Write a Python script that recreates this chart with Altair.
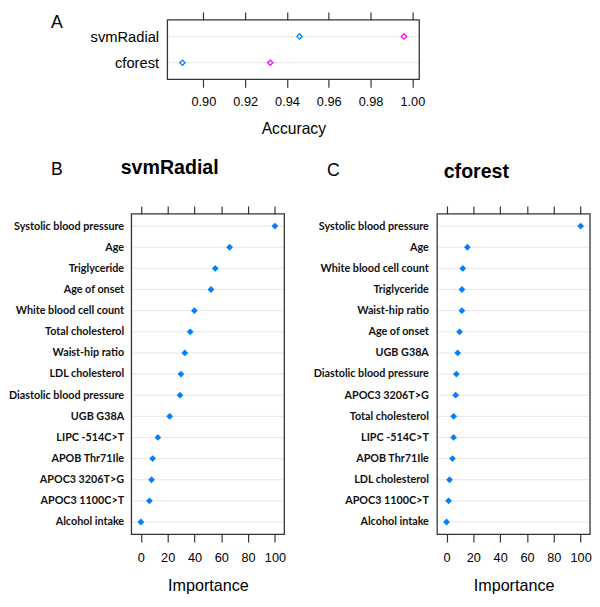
import altair as alt
import pandas as pd

# ---------------- data ----------------
models = ["svmRadial", "cforest"]
acc_set1 = [0.946, 0.890]     # blue open diamonds
acc_set2 = [0.996, 0.932]     # magenta open diamonds
acc_ticks = [0.90, 0.92, 0.94, 0.96, 0.98, 1.00]
acc_domain = [0.8828, 1.0033]

svm_features = ["Systolic blood pressure", "Age", "Triglyceride", "Age of onset",
                "White blood cell count", "Total cholesterol", "Waist-hip ratio",
                "LDL cholesterol", "Diastolic blood pressure", "UGB G38A",
                "LIPC -514C>T", "APOB  Thr71Ile", "APOC3 3206T>G", "APOC3 1100C>T",
                "Alcohol intake"]
svm_importance = [100, 66.2, 55.5, 52.3, 39.9, 36.8, 32.8, 29.9, 29.2, 21.5,
                  12.7, 8.8, 8.0, 6.4, 0]

cf_features = ["Systolic blood pressure", "Age", "White blood cell count", "Triglyceride",
               "Waist-hip ratio", "Age of onset", "UGB G38A", "Diastolic blood pressure",
               "APOC3 3206T>G", "Total cholesterol", "LIPC -514C>T", "APOB  Thr71Ile",
               "LDL cholesterol", "APOC3 1100C>T", "Alcohol intake"]
cf_importance = [100, 15.5, 12.1, 11.5, 11.4, 9.7, 8.3, 7.3, 6.8, 5.3, 5.2, 4.4,
                 2.2, 1.5, 0]

imp_ticks = [0, 20, 40, 60, 80, 100]
imp_domain = [-7, 107]

# ---------------- style ----------------
FRAME = "#333333"
GRID = "#e6e6e6"
BLUE = "#0080ff"
MAGENTA = "#ff00ff"
SANS = "Liberation Sans"
ROWFONT = "Lato"

# ---------------- panel A ----------------
A_OFF = 36.7
A_W = 257
A_H = 60.7

xa = alt.Scale(domain=acc_domain, range=[A_OFF, A_OFF + A_W], nice=False, zero=False)
ya = alt.Scale(type="point", domain=models, padding=0.63)

df_acc = pd.DataFrame({
    "model": models + models,
    "accuracy": acc_set1 + acc_set2,
    "set": ["set 1"] * len(models) + ["set 2"] * len(models),
})
df_a_rows = pd.DataFrame({"model": models, "lo": acc_domain[0], "hi": acc_domain[1]})
df_a_frame = pd.DataFrame({"lo": [acc_domain[0]], "hi": [acc_domain[1]]})

a_grid = alt.Chart(df_a_rows).mark_rule(color=GRID, strokeWidth=1).encode(
    x=alt.X("lo:Q", scale=xa, axis=None), x2="hi:Q",
    y=alt.Y("model:N", scale=ya, axis=None))
a_frame = alt.Chart(df_a_frame).mark_rect(fill="transparent", stroke=FRAME, strokeWidth=1.3).encode(
    x=alt.X("lo:Q", scale=xa, axis=None), x2="hi:Q",
    y=alt.value(0), y2=alt.value(A_H))
a_pts = alt.Chart(df_acc).mark_point(shape="diamond", filled=False, size=30, strokeWidth=1.3, opacity=1).encode(
    x=alt.X("accuracy:Q", scale=xa,
            axis=alt.Axis(orient="bottom", values=acc_ticks, format=".2f", tickSize=8,
                          labelFontSize=13, labelPadding=9, domain=False,
                          title="Accuracy", titleFontSize=16, titlePadding=12.7)),
    y=alt.Y("model:N", scale=ya,
            axis=alt.Axis(orient="left", offset=-A_OFF, ticks=False, domain=False,
                          labelFontSize=15, labelPadding=9, title=None)),
    color=alt.Color("set:N", scale=alt.Scale(domain=["set 1", "set 2"], range=[BLUE, MAGENTA]),
                    legend=None))
a_top = alt.Chart(df_acc).mark_point(opacity=0).encode(
    x=alt.X("accuracy:Q", scale=xa,
            axis=alt.Axis(orient="top", values=acc_ticks, labels=False, tickSize=8,
                          domain=False, title=None)),
    y=alt.Y("model:N", scale=ya, axis=None))
a_letter = alt.Chart(pd.DataFrame({"t": ["A"]})).mark_text(
    font=SANS, fontSize=18, align="center", baseline="middle", color="black").encode(
    text="t:N", x=alt.value(-76), y=alt.value(3))

panel_a = alt.layer(a_grid, a_frame, a_pts, a_top, a_letter).resolve_axis(
    x="independent", y="independent").properties(width=A_OFF + A_W, height=A_H)


# ---------------- panels B and C ----------------
P_W = 156
P_H = 327


def importance_panel(features, values, letter, name, letter_xy, title_xy, min_ext, lab_pad):
    xs = alt.Scale(domain=imp_domain, nice=False, zero=False)
    ys = alt.Scale(type="point", domain=features, padding=0.58)
    df = pd.DataFrame({"feature": features, "importance": values,
                       "lo": imp_domain[0], "hi": imp_domain[1]})
    df_frame = pd.DataFrame({"lo": [imp_domain[0]], "hi": [imp_domain[1]]})

    grid = alt.Chart(df).mark_rule(color=GRID, strokeWidth=1).encode(
        x=alt.X("lo:Q", scale=xs, axis=None), x2="hi:Q",
        y=alt.Y("feature:N", scale=ys, axis=None))
    frame = alt.Chart(df_frame).mark_rect(fill="transparent", stroke=FRAME, strokeWidth=1.3).encode(
        x=alt.X("lo:Q", scale=xs, axis=None), x2="hi:Q",
        y=alt.value(0), y2=alt.value(P_H))
    pts = alt.Chart(df).mark_point(shape="diamond", filled=True, size=48, color=BLUE, opacity=1).encode(
        x=alt.X("importance:Q", scale=xs,
                axis=alt.Axis(orient="bottom", values=imp_ticks, tickSize=8, labelFontSize=13,
                              labelPadding=10, domain=False, title="Importance",
                              titleFontSize=16.5, titlePadding=13)),
        y=alt.Y("feature:N", scale=ys, sort=None,
                axis=alt.Axis(orient="left", ticks=False, domain=False, labelFont=ROWFONT,
                              labelFontWeight="bold", labelFontSize=11, labelColor="#111111",
                              labelPadding=lab_pad, labelLimit=300, minExtent=min_ext,
                              title=None)))
    top = alt.Chart(df).mark_point(opacity=0).encode(
        x=alt.X("importance:Q", scale=xs,
                axis=alt.Axis(orient="top", values=imp_ticks, labels=False, tickSize=8,
                              domain=False, title=None)),
        y=alt.Y("feature:N", scale=ys, axis=None))
    let = alt.Chart(pd.DataFrame({"t": [letter]})).mark_text(
        font=SANS, fontSize=18, align="center", baseline="middle", color="black").encode(
        text="t:N", x=alt.value(letter_xy[0]), y=alt.value(letter_xy[1]))
    ttl = alt.Chart(pd.DataFrame({"t": [name]})).mark_text(
        font=SANS, fontSize=20, fontWeight="bold", align="center", baseline="middle",
        color="black").encode(
        text="t:N", x=alt.value(title_xy[0]), y=alt.value(title_xy[1]))
    return alt.layer(grid, frame, pts, top, let, ttl).resolve_axis(
        x="independent", y="independent").properties(width=P_W, height=P_H)


panel_b = importance_panel(svm_features, svm_importance, "B", "svmRadial",
                           (-76, -44.3), (39, -47), 121, 8)
panel_c = importance_panel(cf_features, cf_importance, "C", "cforest",
                           (-106, -44), (40, -43), 124, 9)

chart = alt.vconcat(
    panel_a,
    alt.hconcat(panel_b, panel_c, spacing=27),
    spacing=21,
).properties(
    padding={"left": 0, "top": -3, "right": 0, "bottom": 0}
).configure_view(
    strokeOpacity=0
).configure_axis(
    labelFont=SANS, titleFont=SANS, labelColor="black", titleColor="black",
    tickColor=FRAME, tickWidth=1.2, titleFontWeight="normal", grid=False
)

chart.save("out.html", embed_options={"renderer": "svg", "actions": False})
